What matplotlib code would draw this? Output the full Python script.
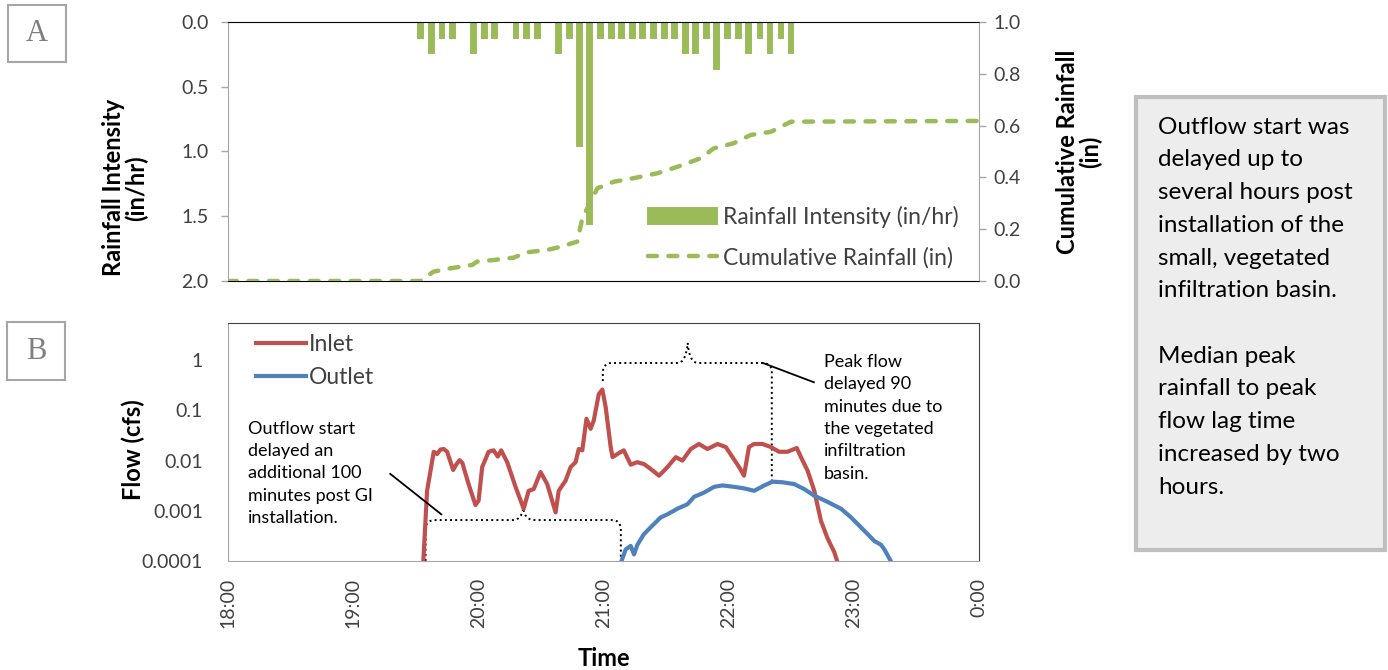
import matplotlib.pyplot as plt
from matplotlib.path import Path
from matplotlib.patches import PathPatch, Rectangle

# --- FONTES ---
plt.rcParams['font.family'] = ['Lato', 'DejaVu Sans']

# --- DADOS (tempo em minutos depois das 18:00) ---

# Intensidade de chuva (in/hr), barras de 5 minutos
chuva_min = [92.2, 97.4, 102.6, 107.7, 117.6, 122.9, 127.7, 138.1, 143.0, 148.2,
             158.4, 163.7, 168.5, 173.3, 178.6, 183.7, 188.6, 193.8, 198.7, 204.0,
             209.3, 214.1, 219.4, 224.2, 229.3, 234.2, 239.5, 244.7, 249.6, 254.9,
             259.7, 265.0, 269.8]
chuva_int = [0.12, 0.24, 0.12, 0.12, 0.24, 0.12, 0.12, 0.12, 0.12, 0.12,
             0.24, 0.12, 0.96, 1.56, 0.12, 0.12, 0.12, 0.12, 0.12, 0.12,
             0.12, 0.12, 0.24, 0.24, 0.12, 0.36, 0.12, 0.12, 0.24, 0.12,
             0.24, 0.12, 0.24]

# Chuva acumulada (in)
acum_min = [0, 92.2, 98.4, 106.6, 117.0, 119.4, 127.2, 136.8, 143.4, 153.0,
            159.4, 167.4, 169.8, 177.0, 184.8, 194.4, 205.8, 215.4, 226.6, 232.8,
            242.4, 250.6, 260.2, 269.8, 360]
acum_val = [0, 0, 0.036, 0.049, 0.062, 0.075, 0.081, 0.090, 0.111, 0.120,
            0.132, 0.152, 0.242, 0.358, 0.383, 0.397, 0.416, 0.441, 0.474, 0.512,
            0.532, 0.564, 0.576, 0.615, 0.618]

# Vazão de entrada (cfs)
inlet_min = [93.6, 95.4, 98.6, 100.2, 101.8, 103.4, 105.0, 107.9, 109.5, 111.0,
             112.3, 115.3, 118.6, 120.1, 121.8, 124.9, 127.3, 129.3, 130.9, 133.8,
             137.8, 141.7, 144.1, 146.5, 149.8, 153.0, 157.0, 158.5, 161.8, 164.2,
             166.6, 168.1, 169.8, 171.8, 173.8, 175.3, 177.7, 179.4, 181.0, 183.4,
             184.3, 187.2, 189.7, 193.0, 196.2, 199.4, 202.6, 206.6, 210.6, 214.6,
             217.8, 221.8, 225.7, 229.8, 234.6, 238.6, 241.8, 245.0, 247.3, 249.7,
             252.1, 256.2, 260.2, 264.1, 268.2, 272.6, 275.4, 277.8, 281.0, 284.2,
             287.4, 290.6, 292.3]
inlet_val = [0.0001, 0.0025, 0.015, 0.0135, 0.0166, 0.017, 0.015, 0.0065, 0.0085, 0.0102,
             0.009, 0.0034, 0.0013, 0.0016, 0.0074, 0.015, 0.016, 0.012, 0.016, 0.0093,
             0.003, 0.0011, 0.0025, 0.0027, 0.0059, 0.0034, 0.00093, 0.0025, 0.004, 0.0074,
             0.0093, 0.017, 0.016, 0.068, 0.043, 0.063, 0.21, 0.26, 0.117, 0.0186,
             0.0117, 0.014, 0.016, 0.0083, 0.0093, 0.0085, 0.0068, 0.005, 0.0074, 0.0117,
             0.010, 0.017, 0.0214, 0.017, 0.0214, 0.0186, 0.0117, 0.0074, 0.005, 0.0186,
             0.0214, 0.0214, 0.0186, 0.015, 0.015, 0.0178, 0.010, 0.0063, 0.0025, 0.00063,
             0.00028, 0.00015, 0.00009]

# Vazão de saída (cfs)
outlet_min = [188.2, 190.6, 193.0, 194.6, 196.2, 199.3, 202.6, 207.4, 210.6, 215.4,
              220.2, 223.4, 228.1, 233.0, 237.0, 242.5, 247.3, 252.2, 257.0, 261.0,
              265.8, 271.4, 276.2, 281.0, 287.4, 293.8, 298.6, 305.0, 309.8, 313.0,
              314.6, 318.6]
outlet_val = [0.00009, 0.00017, 0.0002, 0.000135, 0.00021, 0.00034, 0.00047, 0.00074, 0.00085, 0.0011,
              0.00135, 0.0019, 0.0023, 0.003, 0.0032, 0.003, 0.0028, 0.0025, 0.0032, 0.0038,
              0.0037, 0.0034, 0.0027, 0.002, 0.0015, 0.0011, 0.00074, 0.0004, 0.00025, 0.00021,
              0.00017, 0.000085]

# Rótulos do eixo do tempo
horas_min = [0, 60, 120, 180, 240, 300, 360]
horas_txt = ['18:00', '19:00', '20:00', '21:00', '22:00', '23:00', '0:00']

VERDE = '#9BBB59'
VERMELHO = '#C0504D'
AZUL = '#4F81BD'
CINZA_TXT = '#404040'


def chave(ax, x0, x1, xp, yb0, yb1, yh, yp, rx=0.012, ry=0.04, dp=0.014):
    """Desenha uma chave pontilhada (coordenadas do eixo)."""
    verts = [(x0, yb0), (x0, yh - ry), (x0, yh), (x0 + rx, yh),
             (xp - dp, yh), (xp - dp * 0.15, yh), (xp, yp),
             (xp + dp * 0.15, yh), (xp + dp, yh),
             (x1 - rx, yh), (x1, yh), (x1, yh - ry), (x1, yb1)]
    codes = [Path.MOVETO, Path.LINETO, Path.CURVE3, Path.CURVE3,
             Path.LINETO, Path.CURVE3, Path.CURVE3,
             Path.CURVE3, Path.CURVE3,
             Path.LINETO, Path.CURVE3, Path.CURVE3, Path.LINETO]
    ax.add_patch(PathPatch(Path(verts, codes), transform=ax.transAxes,
                           facecolor='none', edgecolor='black', lw=1.4,
                           linestyle=':', clip_on=False))


fig = plt.figure(figsize=(13.88, 6.7), dpi=100)

# --- GRÁFICO A: chuva ---
axA = fig.add_axes([0.1643, 0.5806, 0.5411, 0.3866])
axA.bar(chuva_min, chuva_int, width=2.2, color=VERDE, edgecolor=VERDE,
        linewidth=1.4, label='Rainfall Intensity (in/hr)', zorder=2)
axA.set_xlim(0, 360)
axA.set_ylim(2.0, 0.0)
axA.set_yticks([0.0, 0.5, 1.0, 1.5, 2.0])
axA.set_yticklabels(['0.0', '0.5', '1.0', '1.5', '2.0'])
axA.set_xticks([])
axA.tick_params(axis='y', direction='out', length=5, width=1, color='#A6A6A6',
                pad=9, labelsize=14, labelcolor=CINZA_TXT)
axA.set_ylabel('Rainfall Intensity\n(in/hr)', fontsize=17, fontweight='bold',
               linespacing=1.0)
axA.yaxis.set_label_coords(-0.106, 0.36)
axA.spines['left'].set_color('#A6A6A6')
axA.spines['right'].set_color('#A6A6A6')
axA.spines['top'].set_color('black')
axA.spines['bottom'].set_color('black')

axA2 = axA.twinx()
axA2.plot(acum_min, acum_val, color=VERDE, lw=3.2, linestyle=(0, (2.0, 2.6)),
          dash_capstyle='round', label='Cumulative Rainfall (in)')
axA2.set_ylim(0, 1.0)
axA2.set_yticks([0.0, 0.2, 0.4, 0.6, 0.8, 1.0])
axA2.set_yticklabels(['0.0', '0.2', '0.4', '0.6', '0.8', '1.0'])
axA2.tick_params(axis='y', direction='out', length=5, width=1, color='#A6A6A6',
                 pad=5, labelsize=14, labelcolor=CINZA_TXT)
axA2.set_ylabel('Cumulative Rainfall\n(in)', fontsize=17, fontweight='bold',
                linespacing=1.0)
axA2.yaxis.set_label_coords(1.102, 0.5)
for s in axA2.spines.values():
    s.set_visible(False)

h1, l1 = axA.get_legend_handles_labels()
h2, l2 = axA2.get_legend_handles_labels()
axA2.legend(h1 + h2, l1 + l2, loc='lower right', bbox_to_anchor=(1.0, -0.03),
            frameon=False, fontsize=16.5, handlelength=3.0, handletextpad=0.25,
            labelspacing=0.8, labelcolor=CINZA_TXT)

# --- GRÁFICO B: vazão ---
axB = fig.add_axes([0.1643, 0.1627, 0.5411, 0.3552])
axB.plot(inlet_min, inlet_val, color=VERMELHO, lw=3.0, label='Inlet')
axB.plot(outlet_min, outlet_val, color=AZUL, lw=3.0, label='Outlet')
axB.set_yscale('log')
axB.set_xlim(0, 360)
axB.set_ylim(0.0001, 5.5)
axB.set_yticks([0.0001, 0.001, 0.01, 0.1, 1])
axB.set_yticklabels(['0.0001', '0.001', '0.01', '0.1', '1'])
axB.minorticks_off()
axB.set_xticks(horas_min)
axB.set_xticklabels(horas_txt, rotation=90)
axB.tick_params(axis='both', length=0, labelsize=14, labelcolor=CINZA_TXT)
axB.tick_params(axis='y', pad=18)
axB.tick_params(axis='x', pad=12)
axB.set_ylabel('Flow (cfs)', fontsize=17, fontweight='bold')
axB.yaxis.set_label_coords(-0.111, 0.47)
axB.set_xlabel('Time', fontsize=17, fontweight='bold')
axB.xaxis.set_label_coords(0.5, -0.36)
for lado in ['left', 'bottom']:
    axB.spines[lado].set_color('#A6A6A6')
for lado in ['top', 'right']:
    axB.spines[lado].set_color('#404040')
axB.legend(loc='upper left', bbox_to_anchor=(0.022, 1.0), frameon=False,
           fontsize=16.5, handlelength=2.2, handletextpad=0.1, labelspacing=0.5,
           borderaxespad=0.1, labelcolor=CINZA_TXT)

# Chaves pontilhadas e linhas de chamada
chave(axB, 0.263, 0.523, 0.393, 0.0, 0.0, 0.172, 0.223)
chave(axB, 0.499, 0.724, 0.612, 0.756, 0.332, 0.832, 0.916)
axB.plot([0.216, 0.284], [0.366, 0.196], color='black', lw=1.3,
         transform=axB.transAxes)
axB.plot([0.713, 0.780], [0.831, 0.751], color='black', lw=1.3,
         transform=axB.transAxes)

axB.text(0.027, 0.59, 'Outflow start\ndelayed an\nadditional 100\nminutes post GI\ninstallation.',
         transform=axB.transAxes, fontsize=13, va='top', ha='left',
         linespacing=1.49)
axB.text(0.793, 0.87, 'Peak flow\ndelayed 90\nminutes due to\nthe vegetated\ninfiltration\nbasin.',
         transform=axB.transAxes, fontsize=13, va='top', ha='left',
         linespacing=1.49)

# --- CAIXAS A / B ---
fig.patches.append(Rectangle((0.00576, 0.9075), 0.0418, 0.085, transform=fig.transFigure,
                             facecolor='white', edgecolor='#A6A6A6', lw=1.5))
fig.patches.append(Rectangle((0.0050, 0.4328), 0.0418, 0.0866, transform=fig.transFigure,
                             facecolor='white', edgecolor='#A6A6A6', lw=1.5))
fig.text(0.0267, 0.9507, 'A', family='Liberation Serif', fontsize=22, color='#7F7F7F',
         ha='center', va='center')
fig.text(0.0259, 0.4755, 'B', family='Liberation Serif', fontsize=22, color='#7F7F7F',
         ha='center', va='center')

# --- CAIXA DE TEXTO À DIREITA ---
fig.patches.append(Rectangle((0.8185, 0.1791), 0.1790, 0.676, transform=fig.transFigure,
                             facecolor='#EDEDED', edgecolor='#BFBFBF', lw=3))
fig.text(0.8343, 0.826,
         'Outflow start was\ndelayed up to\nseveral hours post\ninstallation of the\n'
         'small, vegetated\ninfiltration basin.\n\nMedian peak\nrainfall to peak\n'
         'flow lag time\nincreased by two\nhours.',
         fontsize=17.5, va='top', ha='left', linespacing=1.69)

plt.savefig('out.png', dpi=100)
